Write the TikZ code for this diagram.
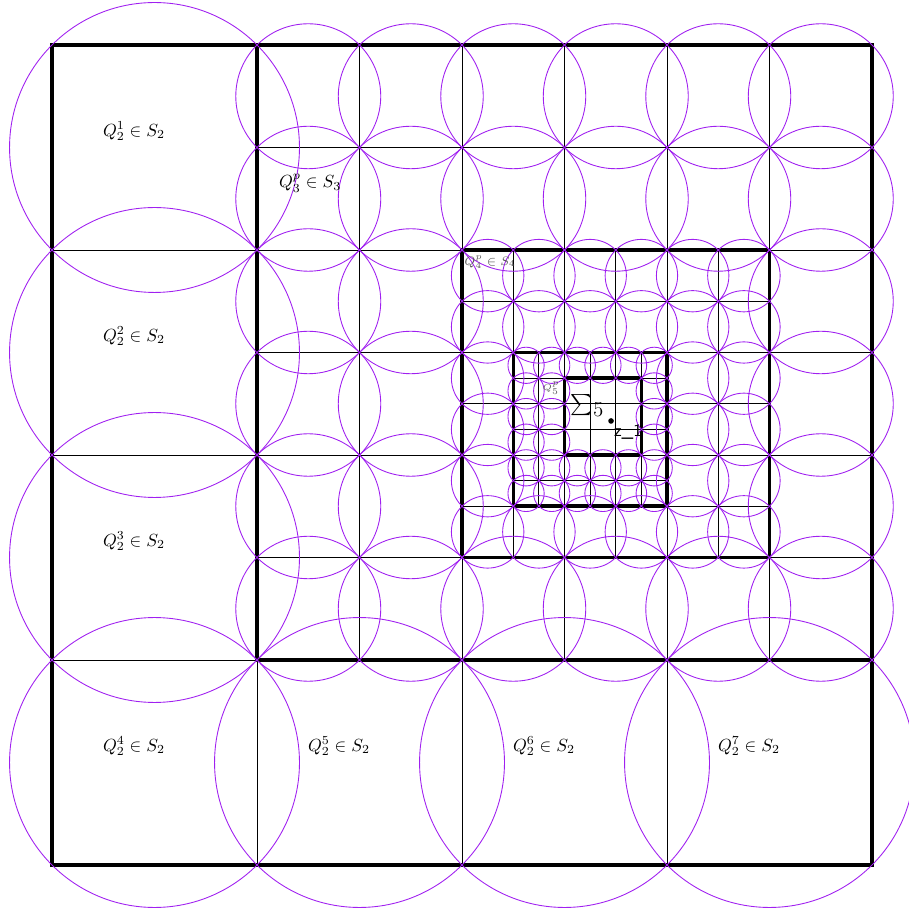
\documentclass[tikz,border=0pt]{standalone}
\usepackage{amsmath, amssymb}
\usepackage{tikz}
\usetikzlibrary{calc, positioning}

\definecolor{ballcol}{RGB}{160,32,240}

\begin{document}
\begin{tikzpicture}[x=4.1cm,y=4.1cm,
        ball/.style={ballcol, line width=0.5pt},
        border/.style={line width=2pt},
        cell/.style={line width=0.45pt}]
        \useasboundingbox (-0.2537,-0.239) rectangle (4.1756,4.2195);

        % 1. Grids of the five generations (coarse lines lie on the fine ones)
        \draw[cell, step=4.1cm] (0,0) grid (4,4);
        \draw[cell, step=2.05cm] (1,1) grid (4,4);
        \draw[cell, step=1.025cm] (2,1.5) grid (3.5,3);
        \draw[cell, step=0.5125cm] (2.25,1.75) grid (3,2.5);

        % 2. Thick borders of the regions
        \draw[border] (0,0) rectangle (4,4);
        \draw[border] (1,1) rectangle (4,4);
        \draw[border] (2,1.5) rectangle (3.5,3);
        \draw[border] (2.25,1.75) rectangle (3,2.5);
        \draw[border] (2.5,2) rectangle (2.875,2.375);

        % 3. Balls round the cubes of S_2
        \foreach \a/\b in {0/3,0/2,0/1,0/0,1/0,2/0,3/0}
            \draw[ball] (\a+0.5,\b+0.5) circle (0.7071);

        % 4. Balls round the cubes of S_3
        \foreach \i in {0,...,5}{
            \foreach \j in {0,...,5}{
                \pgfmathtruncatemacro{\inner}{(\i>=2)*(\i<=4)*(\j>=1)*(\j<=3)}
                \ifnum\inner=0
                    \draw[ball] (1+0.5*\i+0.25,1+0.5*\j+0.25) circle (0.35355);
                \fi
            }
        }

        % 5. Balls round the cubes of S_4
        \foreach \i in {0,...,5}{
            \foreach \j in {0,...,5}{
                \pgfmathtruncatemacro{\inner}{(\i>=1)*(\i<=3)*(\j>=1)*(\j<=3)}
                \ifnum\inner=0
                    \draw[ball] (2+0.25*\i+0.125,1.5+0.25*\j+0.125) circle (0.17678);
                \fi
            }
        }

        % 6. Balls round the cubes of S_5
        \foreach \i in {0,...,5}{
            \foreach \j in {0,...,5}{
                \pgfmathtruncatemacro{\inner}{(\i>=2)*(\i<=4)*(\j>=2)*(\j<=4)}
                \ifnum\inner=0
                    \draw[ball] (2.25+0.125*\i+0.0625,1.75+0.125*\j+0.0625) circle (0.08839);
                \fi
            }
        }

        % 7. Labels of the cubes
        \foreach \k/\a/\b in {1/0/3,2/0/2,3/0/1,4/0/0,5/1/0,6/2/0,7/3/0}
            \node (q2\k) at (\a+0.4,\b+0.58) {$Q_2^{\k}\in S_2$};
        \node (q3) at (1.259,3.327) {$Q_3^p\in S_3$};
        \node[font=\scriptsize, text=black!65] (q4) at (2.137,2.941) {$Q_4^p\in S_4$};
        \node[font=\tiny, text=black!65] (q5) at (2.434,2.327) {$Q_5^p$};

        % 8. Sigma_5 and the point z_1
        \node[font=\large] (sigma) at (2.612,2.24) {$\sum_{\textstyle 5}$};
        \coordinate (Z) at (2.727,2.166);
        \fill (Z) circle (1.6pt);
        \node[anchor=north west, inner sep=0pt, font=\sffamily] (zlab) at (2.74,2.15) {z\_1};
    \end{tikzpicture}
\end{document}
